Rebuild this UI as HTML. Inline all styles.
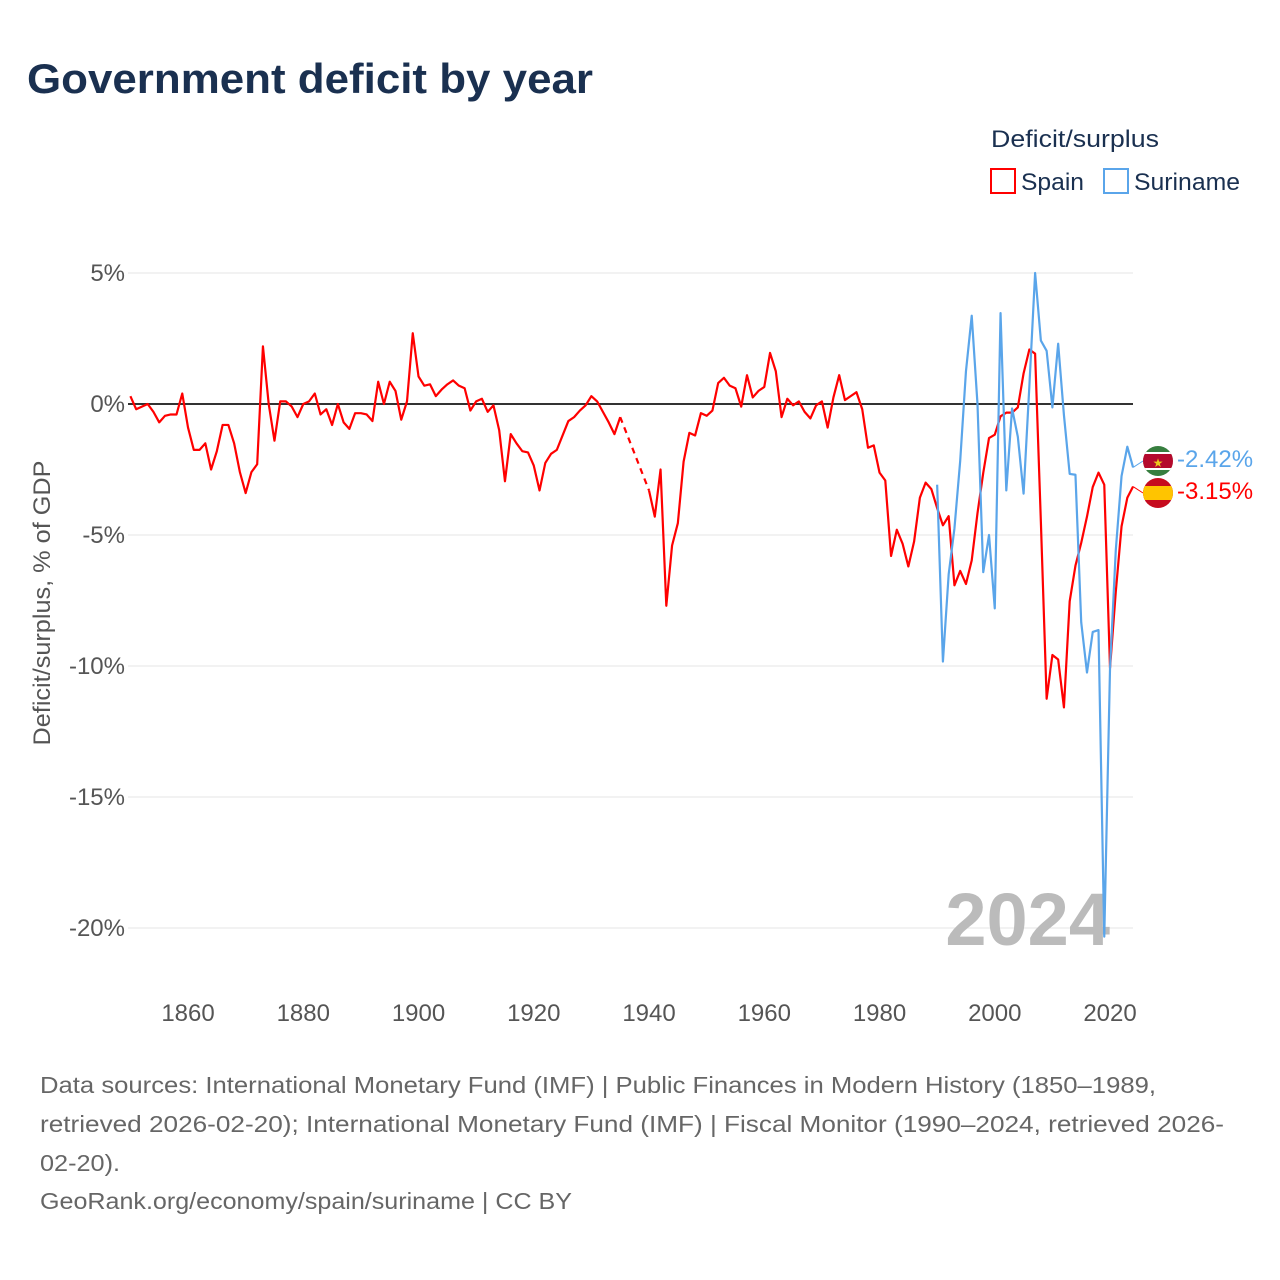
<!DOCTYPE html>
<html><head><meta charset="utf-8"><style>
html,body{margin:0;padding:0;background:#fff}
svg{display:block;font-family:"Liberation Sans",sans-serif}
</style></head><body>
<svg id="chart" width="1280" height="1280" viewBox="0 0 1280 1280">
<text x="27" y="93" font-size="42" font-weight="bold" fill="#1a3050" textLength="566" lengthAdjust="spacingAndGlyphs">Government deficit by year</text>
<g>
<text x="991" y="147" font-size="24" fill="#1a3050" textLength="168" lengthAdjust="spacingAndGlyphs">Deficit/surplus</text>
<g><rect x="991" y="169" width="24" height="24" fill="none" stroke="#ff0000" stroke-width="2"/><text x="1021" y="190" font-size="24" fill="#1a3050" textLength="63" lengthAdjust="spacingAndGlyphs">Spain</text></g>
<g><rect x="1104" y="169" width="24" height="24" fill="none" stroke="#5aa5ea" stroke-width="2"/><text x="1134" y="190" font-size="24" fill="#1a3050" textLength="106" lengthAdjust="spacingAndGlyphs">Suriname</text></g>
</g>
<g id="grid"></g>
<g id="yticks"></g>
<g id="xticks"></g>
<text transform="translate(50,603) rotate(-90)" text-anchor="middle" font-size="24" fill="#555" textLength="285" lengthAdjust="spacingAndGlyphs">Deficit/surplus, % of GDP</text>
<text x="1110" y="945" text-anchor="end" font-size="74" font-weight="bold" fill="#bbb">2024</text>
<g id="series"></g>
<g>
<defs><clipPath id="c1"><circle cx="1158" cy="461" r="15"/></clipPath><clipPath id="c2"><circle cx="1158" cy="493" r="15"/></clipPath></defs>
<g clip-path="url(#c1)"><rect x="1143" y="446" width="30" height="30" fill="#377e3f"/><rect x="1143" y="452" width="30" height="18" fill="#fff"/><rect x="1143" y="454" width="30" height="14" fill="#b40a2d"/><text x="1158" y="467" font-size="12" text-anchor="middle" fill="#ecc81d">★</text></g>
<g clip-path="url(#c2)"><rect x="1143" y="478" width="30" height="30" fill="#c60b1e"/><rect x="1143" y="486" width="30" height="14" fill="#ffc400"/></g>
<text id="surLabel" x="1177" y="467" font-size="24" fill="#5aa5ea">-2.42%</text>
<text id="espLabel" x="1177" y="499" font-size="24" fill="#ff0000">-3.15%</text>
</g>
<g font-size="23" fill="#666">
<text x="40" y="1093" textLength="1116" lengthAdjust="spacingAndGlyphs">Data sources: International Monetary Fund (IMF) | Public Finances in Modern History (1850–1989,</text>
<text x="40" y="1132" textLength="1184" lengthAdjust="spacingAndGlyphs">retrieved 2026-02-20); International Monetary Fund (IMF) | Fiscal Monitor (1990–2024, retrieved 2026-</text>
<text x="40" y="1171" textLength="80" lengthAdjust="spacingAndGlyphs">02-20).</text>
<text x="40" y="1209" textLength="532" lengthAdjust="spacingAndGlyphs">GeoRank.org/economy/spain/suriname | CC BY</text>
</g>
</svg>
<script>
const spainStart = 1850;
const spainValues = [0.3,-0.2,-0.1,0,-0.3,-0.7,-0.45,-0.4,-0.4,0.4,-0.9,-1.75,-1.75,-1.5,-2.5,-1.8,-0.8,-0.8,-1.5,-2.6,-3.4,-2.6,-2.3,2.2,0,-1.4,0.1,0.1,-0.1,-0.5,0,0.1,0.4,-0.4,-0.2,-0.8,0,-0.7,-0.95,-0.35,-0.35,-0.4,-0.65,0.85,0,0.85,0.5,-0.6,0.1,2.7,1.05,0.7,0.75,0.3,0.55,0.75,0.9,0.7,0.6,-0.25,0.1,0.2,-0.3,-0.05,-1.0,-2.95,-1.15,-1.5,-1.8,-1.85,-2.35,-3.3,-2.25,-1.9,-1.75,-1.2,-0.65,-0.5,-0.25,-0.05,0.3,0.1,-0.3,-0.7,-1.15,-0.5,null,null,null,null,-3.3,-4.3,-2.5,-7.7,-5.4,-4.55,-2.2,-1.1,-1.2,-0.35,-0.45,-0.25,0.8,1.0,0.7,0.6,-0.1,1.1,0.25,0.5,0.65,1.95,1.25,-0.5,0.2,-0.05,0.1,-0.3,-0.55,-0.05,0.1,-0.9,0.25,1.1,0.15,0.3,0.45,-0.2,-1.67,-1.58,-2.62,-2.92,-5.8,-4.8,-5.33,-6.2,-5.25,-3.58,-3.0,-3.25,-3.97,-4.63,-4.28,-6.92,-6.37,-6.87,-5.97,-4.17,-2.63,-1.3,-1.17,-0.47,-0.33,-0.33,-0.13,1.17,2.08,1.92,-4.5,-11.25,-9.58,-9.75,-11.58,-7.53,-6.17,-5.3,-4.3,-3.17,-2.62,-3.08,-10.08,-7.17,-4.67,-3.58,-3.15];
const surinameStart = 1990;
const surinameValues = [-3.08,-9.83,-6.5,-4.75,-2.17,1.25,3.37,0,-6.42,-5.0,-7.8,3.47,-3.3,-0.17,-1.25,-3.42,0.67,5.0,2.42,2.03,-0.13,2.3,-0.42,-2.67,-2.7,-8.33,-10.25,-8.7,-8.63,-20.33,-10.08,-5.58,-2.75,-1.63,-2.42];
const yTicks = [5,0,-5,-10,-15,-20];
const yTickLabels = ["5%","0%","-5%","-10%","-15%","-20%"];
const xTicks = [1860,1880,1900,1920,1940,1960,1980,2000,2020];

const NS="http://www.w3.org/2000/svg";
const X0=130.4, PX=5.7625, Y0=404, PY=26.2;
function xs(yr){return X0+PX*(yr-1850);}
function ys(v){return Y0-PY*v;}
function mk(tag,attrs,parent){const e=document.createElementNS(NS,tag);for(const k in attrs)e.setAttribute(k,attrs[k]);parent.appendChild(e);return e;}
const grid=document.getElementById('grid'), yt=document.getElementById('yticks'), xt=document.getElementById('xticks'), ser=document.getElementById('series');
yTicks.forEach((t,i)=>{
  const l=mk('line',{x1:128,x2:1133,y1:ys(t),y2:ys(t),stroke:t===0?'#333':'#e6e6e6','stroke-width':t===0?2:1},grid);
  
  
  const tx=mk('text',{x:125,y:ys(t)+8,'text-anchor':'end','font-size':24,fill:'#555'},yt);
  
  
  tx.textContent=yTickLabels[i];
});
xTicks.forEach(t=>{
  const tx=mk('text',{x:xs(t),y:1021,'text-anchor':'middle','font-size':24,fill:'#555'},xt);
  
  
  tx.textContent=t;
});
function draw(start,vals,color,name){
  let seg=[], segs=[], prev=null, gaps=[];
  vals.forEach((v,i)=>{
    if(v===null){ if(seg.length){segs.push(seg);seg=[];} return; }
    const p=[xs(start+i),ys(v)];
    if(prev && prev.i<i-1) gaps.push([prev.p,p]);
    seg.push(p); prev={i,p};
  });
  if(seg.length) segs.push(seg);
  segs.forEach(s=>{
    const pl=mk('polyline',{points:s.map(p=>p.join(',')).join(' '),fill:'none',stroke:color,'stroke-width':2.2,'stroke-linejoin':'round'},ser);
    
    
  });
  gaps.forEach(g=>{
    const dl=mk('line',{x1:g[0][0],y1:g[0][1],x2:g[1][0],y2:g[1][1],stroke:color,'stroke-width':2.2,'stroke-dasharray':'6,5'},ser);
    
    
  });
  return prev.p;
}
const pe=draw(spainStart,spainValues,'#ff0000','spain');
const ps=draw(surinameStart,surinameValues,'#5aa5ea','suriname');
const c1=mk('line',{x1:ps[0],y1:ps[1],x2:1143,y2:461,stroke:'#5aa5ea','stroke-width':1},ser);


const c2=mk('line',{x1:pe[0],y1:pe[1],x2:1143,y2:493,stroke:'#ff0000','stroke-width':1},ser);


</script>
</body></html>
